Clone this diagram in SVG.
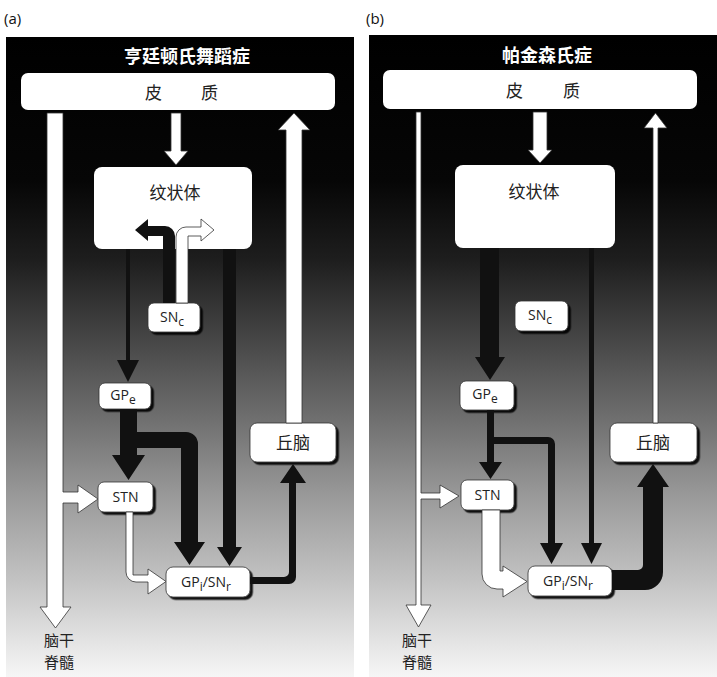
<svg xmlns="http://www.w3.org/2000/svg" width="717" height="677" viewBox="0 0 717 677">
<defs>
<linearGradient id="bg" gradientUnits="userSpaceOnUse" x1="0" y1="36" x2="0" y2="677">
<stop offset="0" stop-color="#000"/>
<stop offset="0.225" stop-color="#060606"/>
<stop offset="0.35" stop-color="#1e1e1e"/>
<stop offset="0.47" stop-color="#454545"/>
<stop offset="0.6" stop-color="#707070"/>
<stop offset="0.72" stop-color="#9a9a9a"/>
<stop offset="0.85" stop-color="#c3c3c3"/>
<stop offset="0.94" stop-color="#e2e2e2"/>
<stop offset="1" stop-color="#f6f6f6"/>
</linearGradient>
<filter id="sh" x="-10%" y="-10%" width="130%" height="140%">
<feDropShadow dx="2.5" dy="2.5" stdDeviation="0.5" flood-color="#000" flood-opacity="0.9"/>
</filter>
</defs>
<style>
.panel{fill:url(#bg)}
.box{fill:#fff;stroke:#333;stroke-width:0.8;filter:url(#sh)}
.bigbox{fill:#fff;stroke:none}
.lbl{font-family:"Open Sans","Liberation Sans",sans-serif;font-size:14px;fill:#222;text-anchor:middle}
.sub{font-size:12px}
.cjk{font-family:"Noto Sans CJK SC",sans-serif;font-size:17px;fill:#222}
.foot{font-family:"Noto Sans CJK SC",sans-serif;font-size:15px;fill:#222;text-anchor:middle}
.title{font-family:"Noto Sans CJK SC",sans-serif;font-size:18px;font-weight:bold;fill:#fff;text-anchor:middle}
.tag{font-family:"Open Sans","Liberation Sans",sans-serif;font-size:15px;fill:#111}
.wa{fill:#fff;stroke:#333;stroke-width:0.8;stroke-linejoin:miter}
.ba{fill:#111;stroke:none}
</style>
<text class="tag" x="4" y="24">(a)</text>
<text class="tag" x="366" y="24">(b)</text>
<rect class="panel" x="6" y="37" width="348" height="640"/>
<rect class="panel" x="369" y="35" width="348" height="642"/>
<text class="title" x="187" y="63">亨廷顿氏舞蹈症</text>
<text class="title" x="547" y="62">帕金森氏症</text>

<g id="a-cortex"><rect class="bigbox" x="21" y="73" width="314" height="37" rx="7"/><text class="cjk" x="145" y="99" font-size="18" letter-spacing="39">皮质</text></g>
<g id="a-striatum"><rect class="bigbox" x="94" y="167" width="158" height="82" rx="8"/><text class="cjk" x="175" y="199" text-anchor="middle" font-size="18">纹状体</text></g>
<g id="a-snc"><rect class="box" x="148" y="303" width="52" height="29" rx="6"/><text class="lbl" x="172" y="322">SN<tspan class="sub" dy="4">c</tspan></text></g>
<g id="a-gpe"><rect class="box" x="99" y="383" width="52" height="26" rx="6"/><text class="lbl" x="123" y="400">GP<tspan class="sub" dy="4">e</tspan></text></g>
<g id="a-thalamus"><rect class="box" x="250" y="423" width="86" height="39" rx="7"/><text class="cjk" x="293" y="449" text-anchor="middle">丘脑</text></g>
<g id="a-stn"><rect class="box" x="98" y="482" width="55" height="30" rx="6"/><text class="lbl" x="125.5" y="502">STN</text></g>
<g id="a-gpi"><rect class="box" x="166" y="567" width="84" height="30" rx="7"/><text class="lbl" x="206" y="587">GP<tspan class="sub" dy="4">i</tspan><tspan dy="-4">/SN</tspan><tspan class="sub" dy="4">r</tspan></text></g>
<g id="a-brainstem"><text class="foot" x="59" y="646">脑干</text><text class="foot" x="59" y="668">脊髓</text></g>

<g id="b-cortex"><rect class="bigbox" x="383" y="70" width="314" height="39" rx="7"/><text class="cjk" x="506" y="97" font-size="18" letter-spacing="40">皮质</text></g>
<g id="b-striatum"><rect class="bigbox" x="455" y="165" width="160" height="83" rx="8"/><text class="cjk" x="534" y="198" text-anchor="middle" font-size="18">纹状体</text></g>
<g id="b-snc"><rect class="box" x="515" y="301" width="53" height="30" rx="6"/><text class="lbl" x="540" y="320">SN<tspan class="sub" dy="4">c</tspan></text></g>
<g id="b-gpe"><rect class="box" x="460" y="381" width="54" height="29" rx="6"/><text class="lbl" x="485" y="399">GP<tspan class="sub" dy="4">e</tspan></text></g>
<g id="b-thalamus"><rect class="box" x="610" y="423" width="87" height="39" rx="7"/><text class="cjk" x="653" y="449" text-anchor="middle">丘脑</text></g>
<g id="b-stn"><rect class="box" x="461" y="480" width="53" height="30" rx="6"/><text class="lbl" x="487.5" y="500">STN</text></g>
<g id="b-gpi"><rect class="box" x="528" y="566" width="84" height="30" rx="7"/><text class="lbl" x="568" y="586">GP<tspan class="sub" dy="4">i</tspan><tspan dy="-4">/SN</tspan><tspan class="sub" dy="4">r</tspan></text></g>
<g id="b-brainstem"><text class="foot" x="417" y="646">脑干</text><text class="foot" x="417" y="668">脊髓</text></g>

<g id="connectors">
<!-- panel a -->
<path class="wa" d="M47,113 H63 V492 H78 V485 L98,499 L78,513 V503 H63 V607 H71 L55.5,628 L40,607 H47 Z"/>
<path class="wa" d="M171,113 H181 V151 H188 L176,165 L164,151 H171 Z"/>
<path class="wa" d="M286,423 V130 H278 L294,113 L310,130 H302 V423 Z"/>
<path class="ba" d="M163,303 V236 H148 V241 L135,230 L148,219 V226 H165 A10,10 0 0 1 175,236 V303 Z"/>
<path class="wa" d="M176,303 V237 A10,10 0 0 1 186,227 H201 V219 L214,230 L201,241 V236 H188 V303 Z"/>
<path class="ba" d="M126,249 H130 V360 H139 L128,382 L117,360 H126 Z"/>
<path class="ba" d="M120,409 H137 V432 H186 A12,12 0 0 1 198,444 V542 H205 L189.5,565 L174,542 H181 V448 H137 V455 H145 L128.5,480 L112,455 H120 Z"/>
<path class="ba" d="M223,249 H236 V547 H242 L229.5,566 L217,547 H223 Z"/>
<path class="wa" d="M126,512 H133 V575 H148 V569 L166,581.5 L148,594 V582 H136 A10,10 0 0 1 126,572 Z"/>
<path class="ba" d="M250,577 H284 A5,5 0 0 0 289,572 V483 H280 L293,464 L306,483 H296 V577 A7,7 0 0 1 289,584 H250 Z"/>
<!-- panel b -->
<path class="wa" d="M416,112 H421 V493 H440 V485 L459,496 L440,508 V499 H421 V605 H431 L418.5,627 L406,605 H416 Z"/>
<path class="wa" d="M533,112 H547 V150 H552 L540,163 L528,150 H533 Z"/>
<path class="wa" d="M653,423 V128 H644 L655.5,113 L667,128 H658 V423 Z"/>
<path class="ba" d="M480,248 H499 V357 H505 L490,380 L475,357 H480 Z"/>
<path class="ba" d="M487,410 H494 V437 H548 A7,7 0 0 1 555,444 V543 H563 L551.5,564 L540,543 H548 V444 H494 V462 H502 L490.5,479 L479,462 H487 Z"/>
<path class="ba" d="M589,248 H594 V543 H602 L591.5,564 L581,543 H589 Z"/>
<path class="wa" d="M482,510 H500 V571 H503 V566 L527,581.5 L503,597 V589 H497 A15,15 0 0 1 482,574 Z"/>
<path class="ba" d="M612,570 H638 A5,5 0 0 0 643,565 V487 H637 L653,464 L669,487 H663 V572 A18,18 0 0 1 645,590 H612 Z"/>
</g>
</svg>
